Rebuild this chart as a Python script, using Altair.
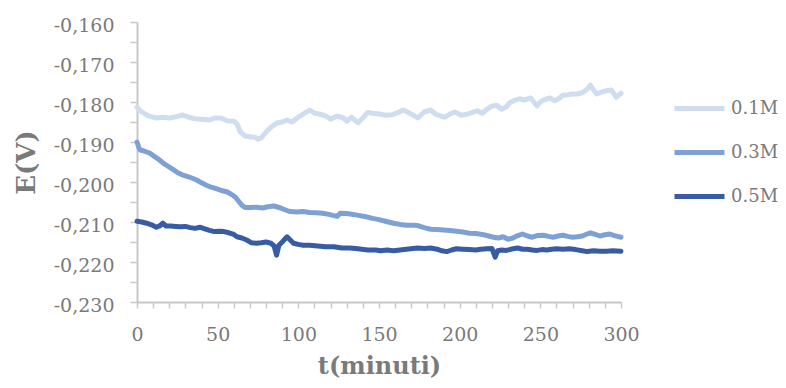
import altair as alt
import pandas as pd

SERIES = ["0.1M", "0.3M", "0.5M"]
COLORS = ["#CFDDF0", "#7EA1D5", "#375CA5"]

T_01 = [0, 2, 5, 8, 12, 16, 20, 24, 28, 32, 36, 40, 45, 48, 52, 56, 60, 62, 64, 67, 70, 73, 75, 77, 80, 83, 87, 90, 93, 96, 100, 104, 107, 110, 113, 117, 120, 124, 128, 130, 133, 137, 140, 143, 146, 150, 154, 158, 162, 165, 169, 172, 174, 178, 182, 185, 188, 191, 194, 197, 201, 205, 208, 211, 214, 217, 220, 223, 226, 229, 231, 234, 237, 240, 244, 246, 248, 250, 252, 256, 259, 262, 264, 267, 270, 273, 276, 279, 281, 283, 285, 288, 291, 294, 297, 300]
E_01 = [-0.1813, -0.1822, -0.1830, -0.1836, -0.1840, -0.1838, -0.1840, -0.1837, -0.1832, -0.1838, -0.1842, -0.1843, -0.1845, -0.1840, -0.1840, -0.1847, -0.1848, -0.1855, -0.1875, -0.1885, -0.1887, -0.1888, -0.1893, -0.1890, -0.1875, -0.1863, -0.1852, -0.1850, -0.1845, -0.1850, -0.1838, -0.1828, -0.1820, -0.1828, -0.1830, -0.1835, -0.1843, -0.1835, -0.1840, -0.1848, -0.1838, -0.1852, -0.1840, -0.1826, -0.1828, -0.1830, -0.1833, -0.1832, -0.1826, -0.1820, -0.1828, -0.1835, -0.1840, -0.1825, -0.1820, -0.1830, -0.1835, -0.1838, -0.1830, -0.1825, -0.1833, -0.1830, -0.1826, -0.1822, -0.1828, -0.1818, -0.1810, -0.1808, -0.1818, -0.1812, -0.1802, -0.1796, -0.1792, -0.1795, -0.1790, -0.1800, -0.1810, -0.1800, -0.1795, -0.1790, -0.1797, -0.1790, -0.1783, -0.1782, -0.1780, -0.1780, -0.1777, -0.1768, -0.1758, -0.1770, -0.1780, -0.1775, -0.1772, -0.1770, -0.1788, -0.1778]

T_03 = [0, 1, 2, 4, 6, 8, 10, 13, 16, 19, 22, 25, 28, 31, 34, 37, 40, 43, 46, 50, 53, 56, 59, 61, 63, 65, 67, 70, 74, 78, 81, 85, 89, 92, 95, 99, 103, 107, 111, 115, 119, 122, 124, 126, 130, 134, 138, 142, 146, 150, 154, 159, 163, 167, 171, 174, 178, 182, 186, 190, 194, 198, 202, 206, 210, 214, 218, 221, 224, 227, 230, 233, 236, 239, 242, 245, 248, 252, 255, 258, 261, 264, 267, 270, 273, 276, 279, 281, 284, 287, 290, 293, 296, 300]
E_03 = [-0.1900, -0.1912, -0.1920, -0.1922, -0.1925, -0.1928, -0.1934, -0.1942, -0.1952, -0.1960, -0.1968, -0.1976, -0.1982, -0.1986, -0.1990, -0.1995, -0.2002, -0.2008, -0.2013, -0.2018, -0.2022, -0.2025, -0.2032, -0.2038, -0.2048, -0.2058, -0.2064, -0.2064, -0.2063, -0.2065, -0.2062, -0.2060, -0.2065, -0.2070, -0.2074, -0.2075, -0.2074, -0.2076, -0.2077, -0.2078, -0.2081, -0.2084, -0.2086, -0.2078, -0.2079, -0.2081, -0.2084, -0.2087, -0.2091, -0.2094, -0.2098, -0.2103, -0.2106, -0.2108, -0.2108, -0.2109, -0.2114, -0.2118, -0.2119, -0.2120, -0.2121, -0.2123, -0.2125, -0.2128, -0.2129, -0.2131, -0.2135, -0.2138, -0.2140, -0.2137, -0.2143, -0.2140, -0.2134, -0.2130, -0.2135, -0.2138, -0.2134, -0.2133, -0.2136, -0.2138, -0.2135, -0.2133, -0.2136, -0.2138, -0.2137, -0.2135, -0.2130, -0.2127, -0.2131, -0.2135, -0.2132, -0.2130, -0.2134, -0.2138]

T_05 = [0, 3, 6, 9, 12, 14, 16, 18, 21, 24, 27, 30, 33, 36, 39, 42, 45, 48, 51, 54, 57, 60, 62, 65, 68, 71, 74, 77, 80, 83, 85, 86.5, 88, 90, 93, 95, 97, 100, 103, 107, 112, 117, 122, 127, 132, 137, 143, 148, 151, 155, 159, 163, 167, 171, 174, 178, 182, 186, 189, 192, 195, 198, 202, 206, 210, 213, 217, 220, 222, 223.5, 226, 229, 233, 236, 239, 242, 245, 248, 251, 254, 257, 260, 264, 268, 272, 276, 279, 283, 287, 291, 295, 300]
E_05 = [-0.2098, -0.2100, -0.2103, -0.2107, -0.2113, -0.2110, -0.2103, -0.2110, -0.2110, -0.2111, -0.2112, -0.2111, -0.2114, -0.2116, -0.2113, -0.2117, -0.2121, -0.2124, -0.2123, -0.2124, -0.2127, -0.2131, -0.2137, -0.2140, -0.2145, -0.2152, -0.2153, -0.2152, -0.2150, -0.2153, -0.2160, -0.2183, -0.2158, -0.2150, -0.2137, -0.2145, -0.2153, -0.2156, -0.2158, -0.2158, -0.2160, -0.2162, -0.2162, -0.2165, -0.2165, -0.2167, -0.2170, -0.2170, -0.2172, -0.2170, -0.2172, -0.2170, -0.2168, -0.2166, -0.2165, -0.2166, -0.2165, -0.2168, -0.2172, -0.2174, -0.2170, -0.2167, -0.2168, -0.2169, -0.2170, -0.2168, -0.2167, -0.2166, -0.2188, -0.2172, -0.2170, -0.2171, -0.2167, -0.2165, -0.2168, -0.2168, -0.2170, -0.2171, -0.2169, -0.2170, -0.2168, -0.2167, -0.2168, -0.2167, -0.2169, -0.2172, -0.2174, -0.2172, -0.2173, -0.2173, -0.2172, -0.2173]

X_TICKS = list(range(0, 301, 10))
Y_TICKS = [round(-0.230 + 0.005 * i, 3) for i in range(15)]

rows = []
for name, ts, es in [(SERIES[0], T_01, E_01), (SERIES[1], T_03, E_03), (SERIES[2], T_05, E_05)]:
    for i, (t, e) in enumerate(zip(ts, es)):
        rows.append({"serie": name, "t": t, "E": e, "ord": i})
df = pd.DataFrame(rows)

GRAY = "#7a7a7a"
AXC = "#c8c8c8"

chart = alt.Chart(df).mark_line(strokeWidth=5, strokeCap="round", strokeJoin="round").encode(
    x=alt.X("t:Q", scale=alt.Scale(domain=[0, 300], nice=False),
            axis=alt.Axis(title="t(minuti)", values=X_TICKS, labelFlush=False,
                          labelExpr="datum.value % 50 == 0 ? datum.label : ''",
                          labelFont="DejaVu Serif", labelFontSize=19, labelColor=GRAY,
                          labelPadding=17, tickSize=6,
                          titleFont="DejaVu Serif", titleFontSize=24, titleFontWeight="bold",
                          titleColor=GRAY, titleX=242, titleY=64, titleBaseline="middle",
                          titleAlign="center")),
    y=alt.Y("E:Q", scale=alt.Scale(domain=[-0.230, -0.160], nice=False, zero=False),
            axis=alt.Axis(title="E(V)", values=Y_TICKS, labelFlush=False,
                          labelExpr="abs(round(datum.value*1000)) % 10 == 0 ? '-' + replace(format(abs(datum.value), '.3f'), '.', ',') : ''",
                          labelFont="DejaVu Serif", labelFontSize=19, labelColor=GRAY,
                          labelPadding=16, labelOffset=3, tickSize=7,
                          titleFont="DejaVu Serif", titleFontSize=26, titleFontWeight="bold",
                          titleColor=GRAY, titleAngle=270, titleX=-111, titleY=140,
                          titleBaseline="middle", titleAlign="center")),
    color=alt.Color("serie:N", scale=alt.Scale(domain=SERIES, range=COLORS),
                    legend=alt.Legend(title=None, orient="none", legendX=535, legendY=59,
                                      symbolType="stroke", symbolSize=2500, symbolStrokeWidth=5,
                                      labelFont="DejaVu Serif", labelFontSize=18, labelColor=GRAY,
                                      labelOffset=4, rowPadding=6)),
    order="ord:Q",
).properties(
    width=484, height=280,
    autosize=alt.AutoSizeParams(type="none"),
    padding={"left": 129, "top": 14, "right": 157, "bottom": 78},
).configure_axis(
    grid=False, domainColor=AXC, tickColor=AXC, domainWidth=2, tickWidth=1.5,
).configure_view(stroke=None)

chart.save("out.html", embed_options={"renderer": "svg", "actions": False})
